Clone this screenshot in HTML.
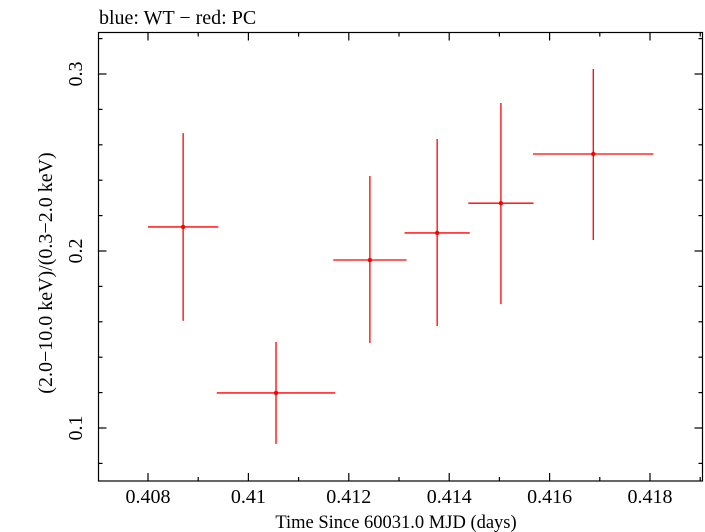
<!DOCTYPE html>
<html><head><meta charset="utf-8"><style>
html,body{margin:0;padding:0;background:#fff;}
svg{display:block;font-family:"Liberation Serif",serif;}
</style></head><body>
<svg id="chart" width="705" height="532" viewBox="0 0 705 532">
<text x="99" y="24" font-size="20" fill="#000">blue: WT − red: PC</text>
<rect x="98.5" y="32.5" width="604" height="448.5" fill="none" stroke="#000" stroke-width="1.2"/>
<g id="ticks"></g>
<g id="marks"></g>
<text x="396" y="528" font-size="18.5" text-anchor="middle">Time Since 60031.0 MJD (days)</text>
<text transform="translate(52,273) rotate(-90)" font-size="20" text-anchor="middle">(2.0−10.0 keV)/(0.3−2.0 keV)</text>
</svg>
<script>
const times=[0.40870,0.41055,0.41242,0.41376,0.41503,0.41687];
const timeErr=[0.00070,0.00118,0.00073,0.00065,0.00065,0.00120];
const ratio=[0.2136,0.1198,0.1949,0.2102,0.2270,0.2548];
const ratioUp=[0.2666,0.1486,0.2424,0.2633,0.2836,0.3028];
const ratioLo=[0.1605,0.0910,0.1480,0.1576,0.1700,0.2062];
const xTicks=[0.408,0.410,0.412,0.414,0.416,0.418];
const xTickLabels=["0.408","0.41","0.412","0.414","0.416","0.418"];
const yTicks=[0.1,0.2,0.3];
const yTickLabels=["0.1","0.2","0.3"];
const X0=98.5,X1=702.5,Y0=32.5,Y1=481;
const xs=v=>148+(v-0.408)*50200;
const ys=v=>251-(v-0.2)*1770;
const NS="http://www.w3.org/2000/svg";
function mk(tag,attrs,parent){const e=document.createElementNS(NS,tag);for(const k in attrs)e.setAttribute(k,attrs[k]);parent.appendChild(e);return e;}
const tg=document.getElementById('ticks');
for(let i=0;i<=12;i++){const v=0.4070+i*0.001;const x=xs(v);if(x<X0||x>X1)continue;
 const major=xTicks.some(t=>Math.abs(t-v)<1e-7);const L=major?8:4;
 const a=mk('line',{x1:x,x2:x,y1:Y1,y2:Y1-L,stroke:'#000','stroke-width':1.2},tg);
 
 const b=mk('line',{x1:x,x2:x,y1:Y0,y2:Y0+L,stroke:'#000','stroke-width':1.2},tg);
 }
xTicks.forEach((v,i)=>{const t=mk('text',{x:xs(v),y:503,'font-size':20,'text-anchor':'middle'},tg);t.textContent=xTickLabels[i];
 });
for(let i=0;i<=20;i++){const v=0.06+i*0.02;const y=ys(v);if(y<Y0||y>Y1)continue;
 const major=yTicks.some(t=>Math.abs(t-v)<1e-7);const L=major?8:4;
 const a=mk('line',{x1:X0,x2:X0+L,y1:y,y2:y,stroke:'#000','stroke-width':1.2},tg);
 
 const b=mk('line',{x1:X1,x2:X1-L,y1:y,y2:y,stroke:'#000','stroke-width':1.2},tg);
 }
yTicks.forEach((v,i)=>{const t=mk('text',{transform:`translate(82,${ys(v)}) rotate(-90)`,'font-size':20,'text-anchor':'middle'},tg);t.textContent=yTickLabels[i];
 });
const mg=document.getElementById('marks');
times.forEach((t,i)=>{
 const h=mk('line',{x1:xs(t-timeErr[i]),x2:xs(t+timeErr[i]),y1:ys(ratio[i]),y2:ys(ratio[i]),stroke:'#f00','stroke-width':1.3},mg);
 
 const v=mk('line',{x1:xs(t),x2:xs(t),y1:ys(ratioUp[i]),y2:ys(ratioLo[i]),stroke:'#f00','stroke-width':1.3},mg);
 
 const c=mk('circle',{cx:xs(t),cy:ys(ratio[i]),r:2.2,fill:'#f00'},mg);
 
});
</script>
</body></html>
